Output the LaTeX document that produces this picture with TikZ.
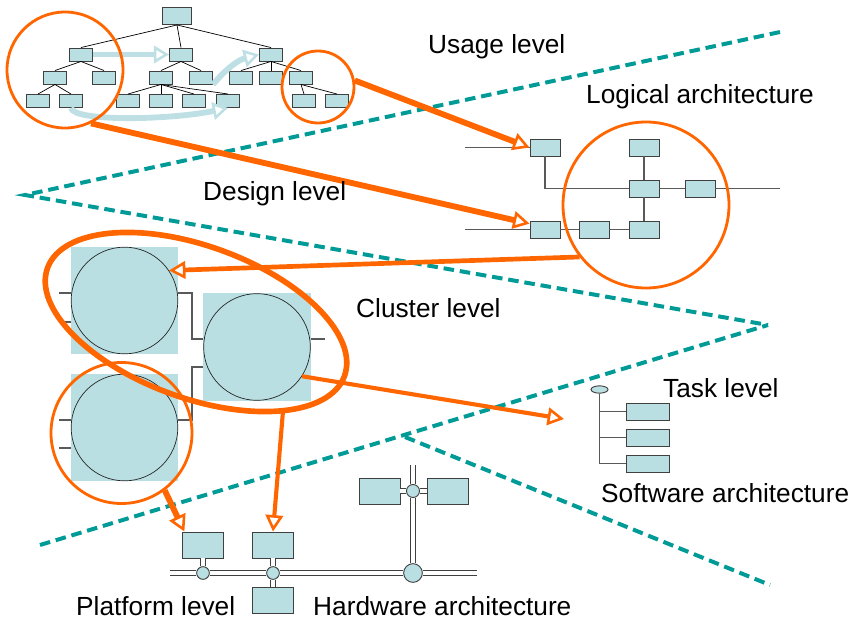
\documentclass[tikz,border=0pt]{standalone}
\usepackage{fontspec}
\setmainfont{Liberation Sans}
\usepackage{xcolor}
\usetikzlibrary{arrows.meta,shapes.geometric}

\definecolor{boxfill}{RGB}{185,223,226}
\definecolor{hlorange}{RGB}{255,102,0}
\definecolor{lvlteal}{RGB}{0,155,150}
\definecolor{paleteal}{RGB}{190,224,228}

\begin{document}
\begin{tikzpicture}[
    x=0.03cm, y=-0.03cm,
    lbl/.style={font=\fontsize{22.4}{27}\selectfont, inner sep=0pt, anchor=base west},
    blk/.style={draw=black!75, fill=boxfill, line width=0.8pt, inner sep=0pt},
    rbox/.style={blk, minimum width=0.87cm, minimum height=0.51cm},
    tbox/.style={blk, minimum width=0.69cm, minimum height=0.39cm},
    lbox/.style={blk, minimum width=0.9cm, minimum height=0.51cm},
    kbox/.style={blk, minimum width=1.29cm, minimum height=0.51cm},
    hbox/.style={blk, minimum width=1.23cm, minimum height=0.78cm},
    jct/.style={blk, circle},
    clsq/.style={fill=boxfill, minimum size=3.21cm, inner sep=0pt},
    clcirc/.style={draw=black!85, circle, line width=0.6pt, minimum size=3.2cm, inner sep=0pt},
    link/.style={draw=black, line width=0.6pt},
    wire/.style={draw=black!65, line width=0.9pt},
    bus/.style={draw=black!75, line width=0.7pt, double=white, double distance=3.6pt},
    lvl/.style={lvlteal, line width=3.4pt, dash pattern=on 9pt off 5pt},
    hl/.style={draw=hlorange, line width=2.4pt, circle, inner sep=0pt},
    oarrow/.style={hlorange, line width=#1, -{Triangle[length=14pt, width=15pt, line width=2.2pt, fill=white]}},
    oarrow/.default=4pt,
    parrow/.style={paleteal, line width=5pt, -{Triangle[length=13pt, width=15pt, line width=2.2pt, fill=white]}}
  ]
    \useasboundingbox (0,0) rectangle (855,622);

    % level borders
    \draw[lvl] (780,32) -- (25,195) -- (768,325);
    \draw[lvl] (40,545) -- (768,325);
    \draw[lvl] (405,437) -- (770,585);

    % usage level: tree
    \node[rbox] (root) at (177,16) {};
    \node[tbox] (t1a) at (81,54.5) {};
    \node[tbox] (t1b) at (181,54.5) {};
    \node[tbox] (t1c) at (271,54.5) {};
    \node[tbox] (t2a) at (55,77.5) {};
    \node[tbox] (t2b) at (104,77.5) {};
    \node[tbox] (t2c) at (161,77.5) {};
    \node[tbox] (t2d) at (201,77.5) {};
    \node[tbox] (t2e) at (241,77.5) {};
    \node[tbox] (t2f) at (271,77.5) {};
    \node[tbox] (t2g) at (301,77.5) {};
    \node[tbox] (t3a) at (38,101) {};
    \node[tbox] (t3b) at (71,101) {};
    \node[tbox] (t3c) at (128,101) {};
    \node[tbox] (t3d) at (161,101) {};
    \node[tbox] (t3e) at (194,101) {};
    \node[tbox] (t3f) at (228,101) {};
    \node[tbox] (t3g) at (304,101) {};
    \node[tbox] (t3h) at (337,101) {};
    \draw[link] (root.south) -- (t1a.north);
    \draw[link] (root.south) -- (t1b.north);
    \draw[link] (root.south) -- (t1c.north);
    \draw[link] (t1a.south) -- (t2a.north);
    \draw[link] (t1a.south) -- (t2b.north);
    \draw[link] (t2a.south) -- (t3a.north);
    \draw[link] (t2a.south) -- (t3b.north);
    \draw[link] (t1b.south) -- (t2c.north);
    \draw[link] (t1b.south) -- (t2d.north);
    \draw[link] (t2c.south) -- (t3c.north);
    \draw[link] (t2c.south) -- (t3d.north);
    \draw[link] (t2c.south) -- (t3e.north);
    \draw[link] (t2c.south) -- (t3f.north);
    \draw[link] (t1c.south) -- (t2e.north);
    \draw[link] (t1c.south) -- (t2f.north);
    \draw[link] (t1c.south) -- (t2g.north);
    \draw[link] (t2g.south) -- (t3g.north);
    \draw[link] (t2g.south) -- (t3h.north);
    \draw[parrow] (t1a.east) -- (t1b.west);
    \draw[parrow] (t2d.south east) to[out=50, in=195] (t1c.west);
    \draw[parrow] (t3b.south) .. controls (74,122) and (170,120) .. (t3f.south);

    % logical architecture
    \node[lbox] (la) at (545,147.5) {};
    \node[lbox] (lb) at (644,147.5) {};
    \node[lbox] (lc) at (644,188.5) {};
    \node[lbox] (ld) at (700,188.5) {};
    \node[lbox] (le) at (545,229.5) {};
    \node[lbox] (lf) at (594,229.5) {};
    \node[lbox] (lg) at (644,229.5) {};
    \coordinate (lin1) at (465,147.5);
    \coordinate (lin2) at (465,229.5);
    \coordinate (lout) at (780,188.5);
    \draw[wire] (lin1) -- (la.west);
    \draw[wire] (la.south) |- (lc.west);
    \draw[wire] (lb.south) -- (lc.north);
    \draw[wire] (lc.south) -- (lg.north);
    \draw[wire] (lc.east) -- (ld.west);
    \draw[wire] (ld.east) -- (lout);
    \draw[wire] (lin2) -- (le.west);
    \draw[wire] (le.east) -- (lf.west);
    \draw[wire] (lf.east) -- (lg.west);

    % cluster level
    \node[clsq] (c1sq) at (124.5,300.5) {};
    \node[clsq] (c2sq) at (257,347) {};
    \node[clsq] (c3sq) at (124.5,427.5) {};
    \node[clcirc] (c1) at (124.5,300.5) {};
    \node[clcirc] (c2) at (257,347) {};
    \node[clcirc] (c3) at (124.5,427.5) {};
    \draw[wire] (c1sq.west |- 0,293) -- ++(-12,0);
    \draw[wire] (c1sq.west |- 0,322) -- ++(-12,0);
    \draw[wire] (c1sq.east |- 0,293) -| (192,339) -- (c2sq.west |- 0,339);
    \draw[wire] (c2sq.east |- 0,339) -- ++(14,0);
    \draw[wire] (c2sq.west |- 0,367) -| (192,420) -- (c3sq.east |- 0,420);
    \draw[wire] (c3sq.west |- 0,420) -- ++(-12,0);
    \draw[wire] (c3sq.west |- 0,448) -- ++(-12,0);

    % task level
    \node[blk, ellipse, minimum width=0.51cm, minimum height=0.22cm] (troot) at (599.5,389.5) {};
    \node[kbox] (tk1) at (647.5,411.5) {};
    \node[kbox] (tk2) at (647.5,437.5) {};
    \node[kbox] (tk3) at (647.5,463.5) {};
    \draw[wire] (troot.south) |- (tk3.west);
    \draw[wire] (troot.south |- tk1.west) -- (tk1.west);
    \draw[wire] (troot.south |- tk2.west) -- (tk2.west);

    % platform / hardware
    \node[hbox] (p1) at (203,545) {};
    \node[hbox] (p2) at (273,545) {};
    \node[hbox] (p3) at (273,600) {};
    \node[hbox] (h1) at (379.5,491) {};
    \node[hbox] (h2) at (448,491) {};
    \node[jct, minimum size=0.38cm] (j1) at (203,573) {};
    \node[jct, minimum size=0.38cm] (j2) at (273,573) {};
    \node[jct, minimum size=0.56cm] (j3) at (413,573) {};
    \node[jct, minimum size=0.39cm] (j4) at (413,491) {};
    \coordinate (busl) at (170,573);
    \coordinate (busr) at (477,573);
    \coordinate (bustop) at (413,465);
    \draw[bus] (busl) -- (j1);
    \draw[bus] (j1) -- (j2);
    \draw[bus] (j2) -- (j3);
    \draw[bus] (j3) -- (busr);
    \draw[bus] (p1) -- (j1);
    \draw[bus] (p2) -- (j2);
    \draw[bus] (j2) -- (p3);
    \draw[bus] (j3) -- (j4);
    \draw[bus] (j4) -- (bustop);
    \draw[bus] (h1) -- (j4);
    \draw[bus] (j4) -- (h2);

    % highlights
    \node[hl, minimum size=3.48cm] (hl1) at (65,70) {};
    \node[hl, minimum size=2.16cm] (hl2) at (318,87) {};
    \node[hl, minimum size=4.98cm] (hl3) at (646,205) {};
    \node[hl, minimum size=4.23cm] (hl4) at (121.5,433) {};
    \draw[hlorange, line width=4.8pt, rotate around={-20:(196,322)}] (196,322) ellipse [x radius=158, y radius=76];
    \coordinate (elb) at (283,411);
    \coordinate (tsk) at (564,419);

    \draw[oarrow=5pt] (hl2.10) -- (la.west);
    \draw[oarrow=5pt] (hl1.-64) -- ([yshift=5pt]le.west);
    \draw[oarrow=4pt] (hl3.218) -- (c1.34);
    \draw[oarrow=3.5pt] (c2.-33) -- (tsk);
    \draw[oarrow=5pt] (hl4.-53) -- ([xshift=2pt]p1.north west);
    \draw[oarrow=3.5pt] (elb) -- (p2.north);

    % labels
    \node[lbl] (usage) at (428,54) {Usage level};
    \node[lbl] (logic) at (586,104) {Logical architecture};
    \node[lbl] (design) at (203,201) {Design level};
    \node[lbl] (cluster) at (356,318) {Cluster level};
    \node[lbl] (task) at (663,397) {Task level};
    \node[lbl] (softw) at (601,502) {Software architecture};
    \node[lbl] (platf) at (76,615) {Platform level};
    \node[lbl] (hardw) at (313,615) {Hardware architecture};
  \end{tikzpicture}
\end{document}
